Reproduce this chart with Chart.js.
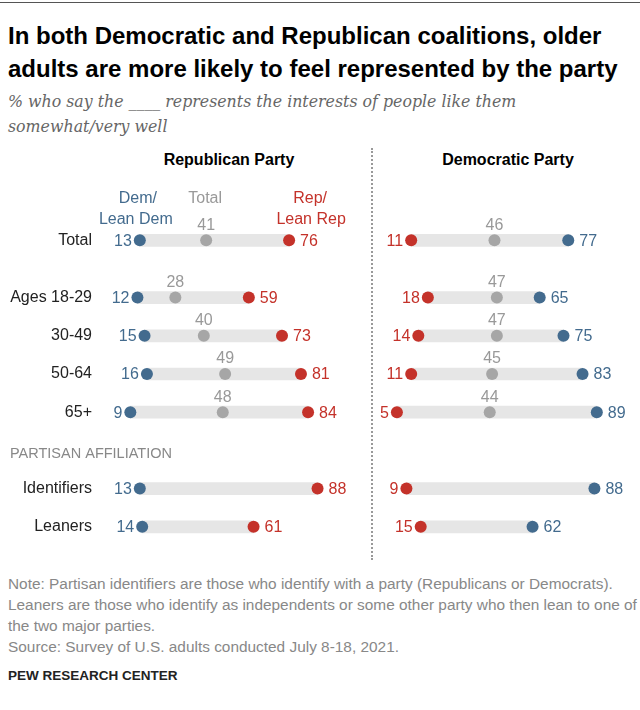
<!DOCTYPE html>
<html>
<head>
<meta charset="utf-8">
<script src="https://cdn.jsdelivr.net/npm/chart.js@4"></script>
<style>
  body { margin: 0; background: #fff; }
  #page { position: relative; width: 640px; height: 710px; overflow: hidden; font-family: "Liberation Sans", Arial, sans-serif; }
  .abs { position: absolute; white-space: nowrap; }
  #rule { left: 0; top: 2px; width: 640px; height: 1px; background: #555; }
  #title { left: 8px; top: 19px; font-weight: bold; font-size: 24px; line-height: 33px; color: #000; }
  #subtitle { left: 8px; top: 89px; font-family: "DejaVu Serif", "Liberation Serif", serif; font-style: italic; font-size: 15.8px; line-height: 25px; color: #666; }
  .head { top: 150px; font-weight: bold; font-size: 16px; line-height: 20px; text-align: center; color: #000; }
  #divider { left: 371px; top: 148px; height: 412px; border-left: 2px dotted #999; }
  #notes { left: 8px; top: 573px; font-size: 15.4px; line-height: 21px; color: #888; }
  #brand { left: 8px; top: 665px; font-weight: bold; font-size: 13.5px; line-height: 22px; color: #222; }
</style>
</head>
<body>
<div id="page">
  <div id="rule" class="abs"></div>
  <div id="title" class="abs">In both Democratic and Republican coalitions, older<br>adults are more likely to feel represented by the party</div>
  <div id="subtitle" class="abs">% who say the ____ represents the interests of people like them<br>somewhat/very well</div>
  <div class="abs head" style="left:109px;width:240px;">Republican Party</div>
  <div class="abs head" style="left:388px;width:240px;">Democratic Party</div>
  <div id="divider" class="abs"></div>
  <div class="abs" style="left:0;top:183px;width:372px;height:382px;"><canvas id="chart_rep"></canvas></div>
  <div class="abs" style="left:372px;top:183px;width:268px;height:382px;"><canvas id="chart_dem"></canvas></div>
  <div id="notes" class="abs">Note: Partisan identifiers are those who identify with a party (Republicans or Democrats).<br>Leaners are those who identify as independents or some other party who then lean to one of<br>the two major parties.<br>Source: Survey of U.S. adults conducted July 8-18, 2021.</div>
  <div id="brand" class="abs">PEW RESEARCH CENTER</div>
</div>
<script>
// rows and groups (0 = total, 1 = ages, 2 = partisan affiliation)
const categories = ['Total', 'Ages 18-29', '30-49', '50-64', '65+', 'Identifiers', 'Leaners'];
const groups = [0, 1, 1, 1, 1, 2, 2];
const groupHeader = 'PARTISAN AFFILIATION';

// Republican Party panel
const repPartyDem = [13, 12, 15, 16, 9, 13, 14];
const repPartyTotal = [41, 28, 40, 49, 48, null, null];
const repPartyRep = [76, 59, 73, 81, 84, 88, 61];

// Democratic Party panel
const demPartyRep = [11, 18, 14, 11, 5, 9, 15];
const demPartyTotal = [46, 47, 47, 45, 44, null, null];
const demPartyDem = [77, 65, 75, 83, 89, 88, 62];

const BLUE = '#436b8e';
const RED = '#c4322a';
const GRAY = '#a6a6a6';
const BAR = '#e6e6e6';
const FONT = '"Liberation Sans", Arial, sans-serif';

// extra space before each group, in rows
const groupGap = [0, 0.5, 1.0];
const rowPos = [];
let shift = 0;
categories.forEach((c, i) => {
    if (i > 0 && groups[i] !== groups[i - 1]) shift += groupGap[groups[i]];
    rowPos.push(i + shift);
});

const valueLabels = {
    id: 'valueLabels',
    afterDatasetsDraw(chart, args, opts) {
        const ctx = chart.ctx;
        ctx.save();
        ctx.font = '16px ' + FONT;
        ctx.textBaseline = 'middle';
        const low = chart.getDatasetMeta(1), mid = chart.getDatasetMeta(2), high = chart.getDatasetMeta(3);
        const d = chart.data.datasets;
        categories.forEach((c, i) => {
            if (d[1].data[i].x != null) {
                const p = low.data[i];
                ctx.fillStyle = d[1].backgroundColor;
                ctx.textAlign = 'right';
                ctx.fillText(d[1].data[i].x, p.x - 8, p.y + 1);
            }
            if (d[2].data[i].x != null) {
                const p = mid.data[i];
                ctx.fillStyle = '#999';
                ctx.textAlign = 'center';
                ctx.fillText(d[2].data[i].x, p.x, p.y - 15);
            }
            if (d[3].data[i].x != null) {
                const p = high.data[i];
                ctx.fillStyle = d[3].backgroundColor;
                ctx.textAlign = 'left';
                ctx.fillText(d[3].data[i].x, p.x + 11, p.y + 1);
            }
        });
        // group header
        const yScale = chart.scales.y;
        const firstPartisan = groups.indexOf(2);
        if (opts.header) {
            ctx.font = '14.5px ' + FONT;
            ctx.fillStyle = '#888';
            ctx.textAlign = 'left';
            ctx.fillText(groupHeader, 10, yScale.getPixelForValue(rowPos[firstPartisan] - 0.9));
        }
        // series key above the Total row
        if (opts.legend) {
            ctx.font = '16px ' + FONT;
            ctx.textAlign = 'center';
            const pl = low.data[0], pm = mid.data[0], ph = high.data[0];
            ctx.fillStyle = BLUE;
            ctx.fillText('Dem/', pl.x - 2, pl.y - 42);
            ctx.fillText('Lean Dem', pl.x - 4, pl.y - 21);
            ctx.fillStyle = '#999';
            ctx.fillText('Total', pm.x - 1, pm.y - 42);
            ctx.fillStyle = RED;
            ctx.fillText('Rep/', ph.x + 21, ph.y - 42);
            ctx.fillText('Lean Rep', ph.x + 22, ph.y - 21);
        }
        ctx.restore();
    }
};

const create_chart = (elem_id, low, mid, high, lowColor, highColor, showAxis, padding) => {
    const ctx = document.getElementById(elem_id).getContext('2d');
    const dot = (vals, color) => ({
        type: 'scatter',
        data: vals.map((v, i) => ({ x: v, y: rowPos[i] })),
        backgroundColor: color,
        borderWidth: 0,
        pointRadius: 6,
        pointHoverRadius: 6,
        order: 1
    });
    return new Chart(ctx, {
        type: 'bar',
        data: {
            datasets: [
                {
                    type: 'bar',
                    data: low.map((v, i) => ({ x: [v, high[i]], y: rowPos[i] })),
                    backgroundColor: BAR,
                    barThickness: 12,
                    order: 2
                },
                dot(low, lowColor),
                dot(mid, GRAY),
                dot(high, highColor)
            ]
        },
        options: {
            indexAxis: 'y',
            responsive: true,
            maintainAspectRatio: false,
            animation: false,
            events: [],
            layout: { padding: padding, autoPadding: false },
            plugins: {
                legend: { display: false },
                tooltip: { enabled: false },
                valueLabels: { header: showAxis, legend: showAxis }
            },
            scales: {
                x: { type: 'linear', min: 0, max: 100, display: false, offset: false },
                y: {
                    type: 'linear',
                    reverse: true,
                    offset: false,
                    min: -1.5,
                    max: 8.5,
                    display: showAxis,
                    grid: { display: false, offset: false },
                    border: { display: false },
                    afterBuildTicks: (scale) => { scale.ticks = rowPos.map(v => ({ value: v })); },
                    afterFit: (scale) => {
                        scale.width = showAxis ? 109 : 0;
                        scale.paddingTop = 0;
                        scale.paddingBottom = 0;
                    },
                    ticks: {
                        padding: 9,
                        color: '#222',
                        font: { family: FONT, size: 16 },
                        callback: (value) => {
                            const i = rowPos.indexOf(value);
                            return i >= 0 ? categories[i] : '';
                        }
                    }
                }
            }
        },
        plugins: [valueLabels]
    });
};

create_chart('chart_rep', repPartyDem, repPartyTotal, repPartyRep, BLUE, RED, true, { left: 0, right: 26, top: 0, bottom: 0 });
create_chart('chart_dem', demPartyRep, demPartyTotal, demPartyDem, RED, BLUE, false, { left: 13, right: 17, top: 0, bottom: 0 });
</script>
</body>
</html>
